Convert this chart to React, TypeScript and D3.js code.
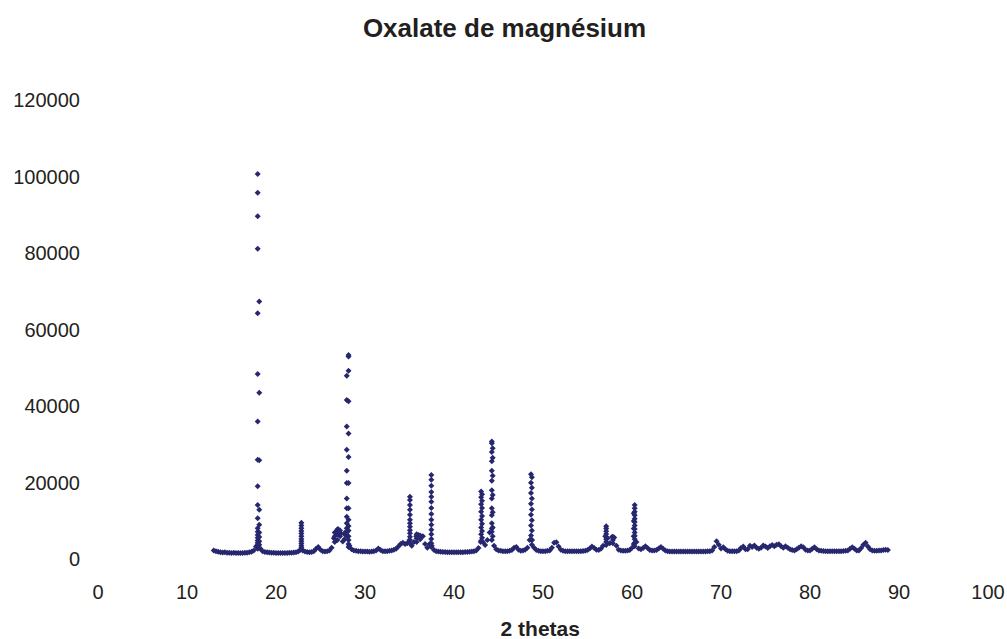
import React from "react";
import * as d3 from "d3";

const W = 1007;
const H = 639;

const chartTitle = "Oxalate de magnésium";
const xAxisTitle = "2 thetas";
const xTicks = [0, 10, 20, 30, 40, 50, 60, 70, 80, 90, 100];
const yTicks = [0, 20000, 40000, 60000, 80000, 100000, 120000];

// continuous profile, measured every 0.25° from 13°
const profileStart = 13;
const profileStep = 0.25;
const profileCounts = [
  2300, 2100, 1950, 1850, // 13
  1750, 1800, 1700, 1700, // 14
  1650, 1700, 1600, 1650, // 15
  1600, 1650, 1700, 1700, // 16
  1800, 1950, 2300, 3300, // 17
  4000, 2700, 2100, 1900, // 18
  1800, 1750, 1700, 1700, // 19
  1650, 1600, 1650, 1600, // 20
  1650, 1650, 1700, 1700, // 21
  1750, 1850, 2000, 2500, // 22
  2300, 2000, 1900, 1850, // 23
  1900, 2100, 2700, 3200, // 24
  2500, 2100, 2000, 2100, // 25
  2300, 3000, 5500, 7200, // 26
  7800, 6800, 4600, 7000, // 27
  6000, 3500, 2600, 2300, // 28
  2200, 2100, 2050, 2000, // 29
  2000, 2000, 1950, 2000, // 30
  2050, 2300, 2800, 2400, // 31
  2100, 2050, 2100, 2200, // 32
  2300, 2500, 2700, 3300, // 33
  4000, 4300, 4000, 4200, // 34
  5000, 3500, 4500, 6000, // 35
  6300, 5800, 6000, 4000, // 36
  3000, 4000, 3500, 2400, // 37
  2100, 2000, 1950, 1900, // 38
  1900, 1850, 1850, 1850, // 39
  1850, 1850, 1850, 1850, // 40
  1850, 1900, 1900, 1950, // 41
  2000, 2100, 2300, 2900, // 42
  4500, 4500, 3700, 5000, // 43
  7000, 8000, 3500, 2600, // 44
  2300, 2200, 2100, 2100, // 45
  2100, 2200, 2400, 3000, // 46
  3200, 2500, 2200, 2300, // 47
  2500, 3000, 5000, 5000, // 48
  3000, 2400, 2200, 2100, // 49
  2100, 2100, 2200, 2300, // 50
  3000, 4300, 4400, 3300, // 51
  2500, 2200, 2100, 2100, // 52
  2100, 2100, 2100, 2100, // 53
  2100, 2100, 2150, 2200, // 54
  2400, 2800, 3300, 2900, // 55
  2500, 2400, 2700, 3500, // 56
  6000, 5500, 4200, 5800, // 57
  5700, 3500, 2500, 2300, // 58
  2200, 2200, 2300, 2400, // 59
  3000, 6000, 4500, 2800, // 60
  2600, 2900, 3400, 2900, // 61
  2400, 2300, 2300, 2400, // 62
  2800, 3200, 2700, 2300, // 63
  2100, 2000, 2000, 2000, // 64
  2000, 2000, 2000, 2000, // 65
  2000, 2000, 2000, 2000, // 66
  2000, 2000, 2000, 2000, // 67
  2000, 2000, 2050, 2100, // 68
  2300, 3200, 4700, 3800, // 69
  2800, 3100, 2600, 2200, // 70
  2100, 2050, 2050, 2100, // 71
  2300, 2900, 3300, 2600, // 72
  2600, 3500, 3200, 3600, // 73
  3000, 2700, 3000, 3600, // 74
  3300, 2900, 3400, 3700, // 75
  3400, 3800, 3900, 3400, // 76
  3000, 3400, 3000, 2600, // 77
  2400, 2300, 2600, 3000, // 78
  3400, 3100, 2500, 2300, // 79
  2300, 2700, 3100, 2600, // 80
  2300, 2200, 2150, 2100, // 81
  2100, 2100, 2100, 2100, // 82
  2100, 2100, 2100, 2150, // 83
  2200, 2300, 2700, 3100, // 84
  2700, 2300, 2300, 2900, // 85
  3800, 4300, 3300, 2600, // 86
  2300, 2200, 2200, 2250, // 87
  2300, 2400, 2500, 2400, // 88
];

// sharp reflections: 2θ of each column of points and its counts
const peakThetas = [
  17.94, 18.12, 22.85, 26.6, 26.9, 27.2, 27.7, 27.95, 28.15, 35.05, 35.8, 36.2,
  37.45, 43.05, 43.15, 44.25, 44.35, 48.65, 48.75, 57.1, 57.85, 60.2, 60.3,
];
const peakCounts = [
  [100700, 95800, 89700, 81200, 64300, 48400, 36000, 26000, 19100, 14200, 10700, 8100, 7200, 6300, 5600, 4900, 4300, 3700, 3200, 2700],
  [67400, 43500, 25900, 12900, 9000, 7000, 5800, 4700, 3800, 3000],
  [9500, 8800, 8100, 7400, 6700, 6000, 5300, 4700, 4100, 3500, 3000, 2600],
  [6000, 7000, 4500],
  [7800, 6500, 5000],
  [7500, 6000],
  [6500, 5200],
  [48000, 41600, 34700, 28600, 23100, 19900, 15900, 13300, 11100, 9400, 8100, 7000],
  [53400, 53000, 49300, 41300, 32900, 26700, 19900, 13300, 10300, 8700, 7500, 6000, 5000, 4000, 3200],
  [16300, 15500, 14200, 12900, 11600, 10300, 9400, 8500, 7600, 6800, 5900, 5000, 4200],
  [6500, 5500, 4500],
  [6200, 5200],
  [22000, 20800, 19200, 17600, 16300, 15000, 13400, 11800, 10300, 9000, 7700, 6500, 5300, 4200, 3200],
  [17700, 16200, 14400, 12400, 10300, 8300, 6500, 4800],
  [17000, 15300, 13400, 11300, 9300, 7400, 5600],
  [30800, 30300, 28000, 25600, 23100, 20500, 18000, 15900, 13300, 11500, 9400, 7200, 5000],
  [29000, 26500, 21800, 16800, 12300, 8300, 6000],
  [22200, 20000, 17300, 14500, 11600, 8800, 6200],
  [21400, 18700, 15900, 13000, 10200, 7500, 5000, 3800],
  [8600, 8000, 7300, 6600, 5900, 5200, 4500, 3700],
  [5900, 5000, 4200],
  [12000, 10000, 8000, 6000, 4000],
  [14200, 13300, 12400, 11500, 10600, 9700, 8800, 7900, 7000, 6100, 5200, 4300, 3400],
];

const markerColor = "#27276f";
const textColor = "#231f20";
const fontFamily = "'Liberation Sans', Arial, Helvetica, sans-serif";

export default function App() {
  const x = d3.scaleLinear().domain([0, 100]).range([98, 988]);
  const y = d3.scaleLinear().domain([0, 120000]).range([559.2, 100.3]);

  const points: [number, number][] = [];
  profileCounts.forEach((c, i) => points.push([profileStart + i * profileStep, c]));
  peakThetas.forEach((t, i) => peakCounts[i].forEach((c) => points.push([t, c])));

  const r = 3;
  const diamond = `M0,${-r}L${r},0L0,${r}L${-r},0Z`;

  return (
    <svg
      width={W}
      height={H}
      style={{ position: "absolute", left: 0, top: 0, background: "#fff" }}
      fontFamily={fontFamily}
    >
      <text x={504.5} y={36.5} textAnchor="middle" fontSize={26} fontWeight="bold" fill={textColor}>
        {chartTitle}
      </text>
      <g>
        {yTicks.map((t) => (
          <text key={t} x={80} y={y(t)} dy="0.35em" textAnchor="end" fontSize={20} fill={textColor}>
            {t}
          </text>
        ))}
      </g>
      <g>
        {xTicks.map((t) => (
          <text key={t} x={x(t)} y={592} dy="0.35em" textAnchor="middle" fontSize={20} fill={textColor}>
            {t}
          </text>
        ))}
      </g>
      <text x={540.3} y={635.5} textAnchor="middle" fontSize={21} fontWeight="bold" fill={textColor}>
        {xAxisTitle}
      </text>
      <g fill={markerColor}>
        {points.map(([t, c], i) => (
          <path key={i} d={diamond} transform={`translate(${x(t)},${y(c)})`} />
        ))}
      </g>
    </svg>
  );
}
